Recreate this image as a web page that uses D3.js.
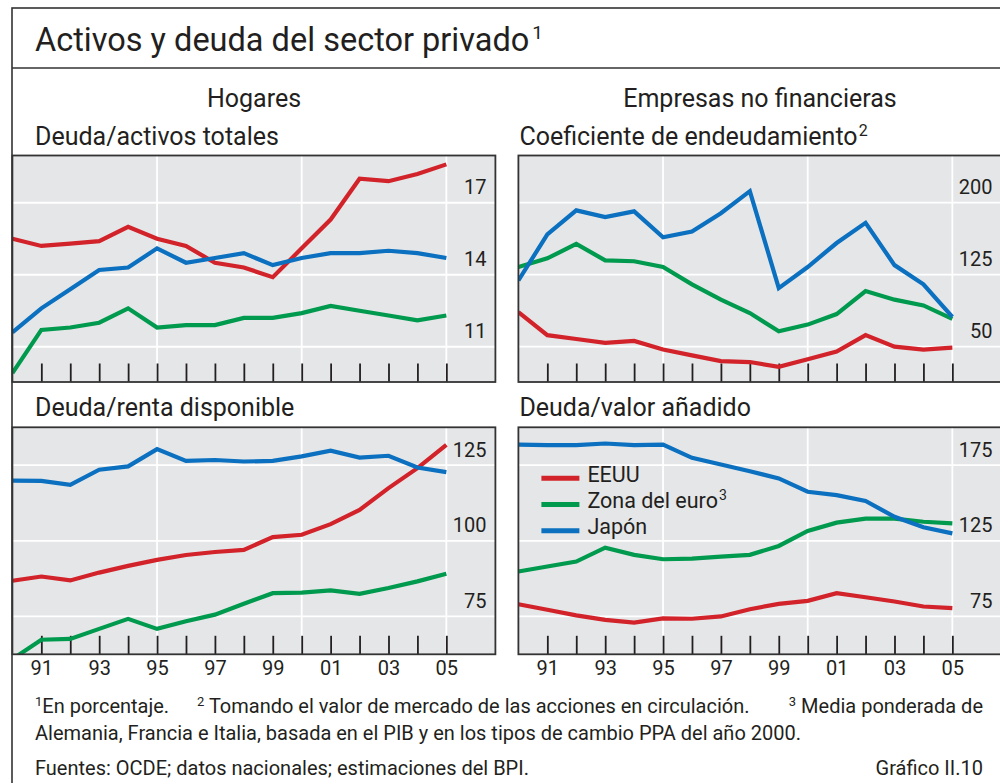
<!DOCTYPE html>
<html>
<head>
<meta charset="utf-8">
<script src="https://cdn.jsdelivr.net/npm/d3@7"></script>
<style>
  body { margin: 0; background: #fff; }
  text { font-family: Roboto, "Liberation Sans", sans-serif; fill: #231f20; }
</style>
</head>
<body>
<svg id="chart" width="1000" height="783"></svg>
<script>
// 데이터 - 연도 (1990~2005)
const years = [1990, 1991, 1992, 1993, 1994, 1995, 1996, 1997, 1998, 1999, 2000, 2001, 2002, 2003, 2004, 2005];
const yearLabels = ['91', '93', '95', '97', '99', '01', '03', '05'];

// Hogares - Deuda/activos totales
const hogActEEUU  = [15.5, 15.2, 15.3, 15.4, 16.0, 15.5, 15.2, 14.5, 14.3, 13.9, 15.1, 16.3, 18.0, 17.9, 18.2, 18.6];
const hogActZona  = [9.9, 11.7, 11.8, 12.0, 12.6, 11.8, 11.9, 11.9, 12.2, 12.2, 12.4, 12.7, 12.5, 12.3, 12.1, 12.3];
const hogActJapon = [11.6, 12.6, 13.4, 14.2, 14.3, 15.1, 14.5, 14.7, 14.9, 14.4, 14.7, 14.9, 14.9, 15.0, 14.9, 14.7];
const hogActTicks = [11, 14, 17];

// Empresas - Coeficiente de endeudamiento
const empEndEEUU  = [86, 62, 58, 54, 56, 47, 41, 35, 34, 29, 37, 45, 62, 50, 47, 49];
const empEndZona  = [133, 142, 157, 140, 139, 133, 115, 99, 85, 66, 73, 84, 108, 99, 93, 79];
const empEndJapon = [119, 167, 192, 185, 191, 164, 170, 189, 212, 111, 133, 158, 179, 135, 115, 81];
const empEndTicks = [50, 125, 200];

// Hogares - Deuda/renta disponible
const hogRentaEEUU  = [86.8, 88.2, 86.9, 89.5, 91.7, 93.7, 95.3, 96.3, 97.0, 101.2, 102.0, 105.5, 110.2, 117.4, 124.0, 131.7];
const hogRentaZona  = [60.9, 67.3, 67.6, 70.9, 74.2, 70.9, 73.4, 75.6, 79.2, 82.7, 82.9, 83.6, 82.5, 84.4, 86.6, 89.1];
const hogRentaJapon = [119.9, 119.8, 118.5, 123.5, 124.6, 130.3, 126.4, 126.7, 126.2, 126.4, 127.9, 129.8, 127.5, 128.1, 124.2, 122.7];
const hogRentaTicks = [75, 100, 125];

// Empresas - Deuda/valor añadido
const empValEEUU  = [83.1, 79.4, 75.7, 72.8, 71.0, 73.7, 73.5, 75.0, 79.8, 83.3, 85.3, 90.4, 87.7, 84.9, 81.6, 80.5];
const empValZona  = [104.7, 108.0, 111.3, 120.5, 115.7, 112.8, 113.2, 114.6, 115.7, 121.6, 131.5, 137.0, 139.6, 139.6, 137.6, 136.5];
const empValJapon = [188.6, 188.2, 188.2, 189.3, 188.2, 188.6, 179.8, 175.4, 171.0, 166.2, 157.4, 155.2, 151.3, 140.9, 133.9, 129.9];
const empValTicks = [75, 125, 175];

// 범례
const seriesNames = ['EEUU', 'Zona del euro', 'Japón'];
const seriesColors = ['#d2232a', '#009a4e', '#0b70bf'];
const gridYears = [1995, 2000, 2005];

const svg = d3.select('#chart');
const frameColor = '#333333';

// 바깥 테두리 + 제목
svg.append('rect')
    .attr('x', 12).attr('y', 8)
    .attr('width', 1010).attr('height', 800)
    .attr('fill', 'none').attr('stroke', frameColor).attr('stroke-width', 1.6);
svg.append('line')
    .attr('x1', 12).attr('x2', 1000).attr('y1', 68).attr('y2', 68)
    .attr('stroke', frameColor).attr('stroke-width', 1.6);

const title = svg.append('text').attr('x', 35).attr('y', 51).attr('font-size', 32.5);
title.append('tspan').text('Activos y deuda del sector privado');
title.append('tspan').attr('dx', 3).attr('dy', -12).attr('font-size', 19).text('1');

// 섹션 제목
svg.append('text').attr('x', 254).attr('y', 107).attr('font-size', 25)
    .attr('text-anchor', 'middle').text('Hogares');
svg.append('text').attr('x', 760).attr('y', 107).attr('font-size', 25)
    .attr('text-anchor', 'middle').text('Empresas no financieras');

// 패널 정의
const panels = [
    { title: 'Deuda/activos totales', sup: null, x: 12.4, y: 155.5, w: 483, h: 226.5,
      domain: [9.53, 18.97], ticks: hogActTicks, series: [hogActEEUU, hogActZona, hogActJapon], xLabels: false },
    { title: 'Coeficiente de endeudamiento', sup: '2', x: 518.4, y: 155.5, w: 483, h: 226.5,
      domain: [13.2, 249.2], ticks: empEndTicks, series: [empEndEEUU, empEndZona, empEndJapon], xLabels: false },
    { title: 'Deuda/renta disponible', sup: null, x: 12.4, y: 427.3, w: 483, h: 227,
      domain: [62.5, 137.5], ticks: hogRentaTicks, series: [hogRentaEEUU, hogRentaZona, hogRentaJapon], xLabels: true },
    { title: 'Deuda/valor añadido', sup: null, x: 518.4, y: 427.3, w: 483, h: 227,
      domain: [50, 200], ticks: empValTicks, series: [empValEEUU, empValZona, empValJapon], xLabels: true, legend: true }
];

panels.forEach((p, i) => {
    // 패널 제목 (왼쪽 패널은 안쪽으로 들여씀)
    const tx = i % 2 === 0 ? 35 : p.x + 1;
    const t = svg.append('text').attr('x', tx).attr('y', p.y - 11).attr('font-size', 25).text(p.title);
    if (p.sup) t.append('tspan').attr('dx', 1).attr('dy', -9).attr('font-size', 16).text(p.sup);

    const g = svg.append('g').attr('transform', `translate(${p.x},${p.y})`);

    const x = d3.scaleLinear().domain([1990, 1990 + p.w / 28.93]).range([0, p.w]);
    const y = d3.scaleLinear().domain(p.domain).range([p.h, 0]);

    // 배경
    g.append('rect').attr('width', p.w).attr('height', p.h).attr('fill', '#e5e6e8');

    // 그리드
    g.selectAll('.hgrid').data(p.ticks).join('line')
        .attr('x1', 0).attr('x2', p.w)
        .attr('y1', d => y(d)).attr('y2', d => y(d))
        .attr('stroke', '#fff').attr('stroke-width', 1.8);
    g.selectAll('.vgrid').data(gridYears).join('line')
        .attr('x1', d => x(d)).attr('x2', d => x(d))
        .attr('y1', 0).attr('y2', p.h)
        .attr('stroke', '#fff').attr('stroke-width', 1.8);

    // 눈금 (아래에서 위로)
    const tickAxis = d3.axisBottom(x).tickValues(years.slice(1)).tickSize(-18.5).tickFormat('');
    const ta = g.append('g').attr('transform', `translate(0,${p.h})`).call(tickAxis);
    ta.select('.domain').remove();
    ta.selectAll('line').attr('stroke', '#231f20').attr('stroke-width', 1.8);

    // Y축 라벨 (그리드 위쪽, 오른쪽 정렬)
    const yAxis = d3.axisLeft(y).tickValues(p.ticks).tickSize(0).tickPadding(0);
    const ya = g.append('g').attr('transform', `translate(${p.w - 9},0)`).call(yAxis);
    ya.select('.domain').remove();
    ya.selectAll('text')
        .attr('font-family', null).attr('font-size', 20)
        .attr('dy', -9).attr('fill', '#231f20');

    // 선
    const clipId = 'clip' + i;
    g.append('clipPath').attr('id', clipId)
        .append('rect').attr('width', p.w).attr('height', p.h);
    const line = d3.line().x((d, j) => x(years[j])).y(d => y(d));
    g.append('g').attr('clip-path', `url(#${clipId})`)
        .selectAll('path').data(p.series).join('path')
        .attr('d', line)
        .attr('fill', 'none')
        .attr('stroke', (d, j) => seriesColors[j])
        .attr('stroke-width', 4.2)
        .attr('stroke-linejoin', 'miter');

    // 테두리
    g.append('rect').attr('width', p.w).attr('height', p.h)
        .attr('fill', 'none').attr('stroke', frameColor).attr('stroke-width', 1.8);

    // X축 라벨
    if (p.xLabels) {
        const lab = d3.axisBottom(x).tickValues(years.filter(d => d % 2 === 1))
            .tickSize(0).tickPadding(0).tickFormat((d, k) => yearLabels[k]);
        const la = g.append('g').attr('transform', `translate(0,${p.h})`).call(lab);
        la.select('.domain').remove();
        la.selectAll('text').attr('font-family', null).attr('font-size', 20)
            .attr('dy', null).attr('y', 21).attr('fill', '#231f20');
    }

    // 범례
    if (p.legend) {
        const lg = g.append('g').attr('transform', 'translate(23,51)');
        seriesNames.forEach((name, j) => {
            lg.append('line').attr('x1', 0).attr('x2', 38)
                .attr('y1', j * 26.2).attr('y2', j * 26.2)
                .attr('stroke', seriesColors[j]).attr('stroke-width', 5);
            const lt = lg.append('text').attr('x', 46).attr('y', j * 26.2 + 3.5).attr('font-size', 21.5).text(name);
            if (j === 1) lt.append('tspan').attr('dx', 1).attr('dy', -8).attr('font-size', 14).text('3');
        });
    }
});

// 각주
const fs = 20;
function footText(x, yPos, parts, anchor) {
    const t = svg.append('text').attr('x', x).attr('y', yPos).attr('font-size', fs)
        .attr('text-anchor', anchor || 'start');
    parts.forEach(pt => {
        if (pt.sup) t.append('tspan').attr('dy', -7).attr('font-size', 13).text(pt.sup);
        t.append('tspan').attr('dy', pt.sup ? 7 : 0).text(pt.text);
    });
    return t;
}
footText(35, 713, [{ sup: '1', text: 'En porcentaje.' }]);
footText(197, 713, [{ sup: '2', text: ' Tomando el valor de mercado de las acciones en circulación.' }]);
footText(983, 713, [{ sup: '3', text: ' Media ponderada de' }], 'end');
footText(35, 740, [{ text: 'Alemania, Francia e Italia, basada en el PIB y en los tipos de cambio PPA del año 2000.' }]);
footText(35, 775, [{ text: 'Fuentes: OCDE; datos nacionales; estimaciones del BPI.' }]);
footText(983, 775, [{ text: 'Gráfico II.10' }], 'end');
</script>
</body>
</html>
